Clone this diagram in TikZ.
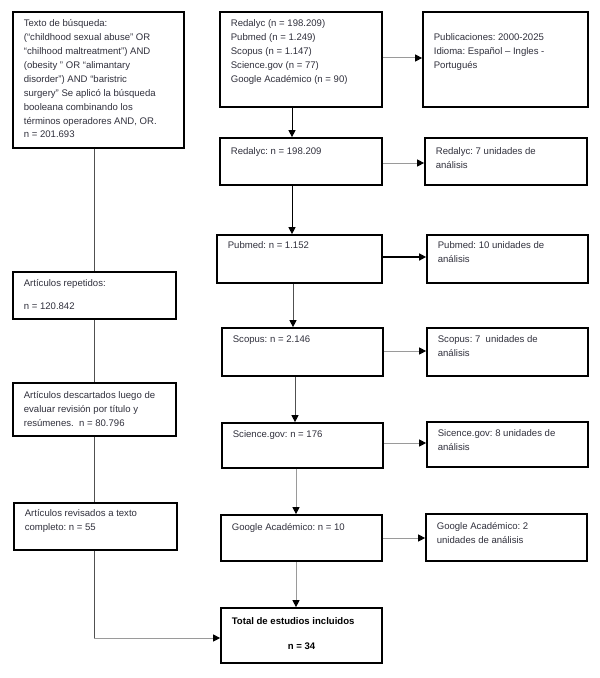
\documentclass[tikz,border=0pt]{standalone}
\usepackage{fontspec}
\setmainfont{Liberation Sans}
\usetikzlibrary{arrows.meta}
\definecolor{txtc}{HTML}{30303C}
\definecolor{lgray}{HTML}{9A9A9A}
\definecolor{dgray}{HTML}{505050}
\tikzset{
  box/.style={draw=black, line width=1.7bp, inner sep=0, fill=white},
  txt/.style={anchor=north west, align=left, inner sep=0, text=txtc,
    font=\frenchspacing\fontsize{9.6}{14}\selectfont},
  tip/.style={-{Triangle[length=7bp,width=7bp,color=black]}},
  conng/.style={draw=lgray, line width=1bp},
  connd/.style={draw=dgray, line width=1bp},
  connb/.style={draw=black, line width=1bp},
}
\newcommand\mybox[7]{%
  \pgfmathsetmacro\bw{#4-#2}\pgfmathsetmacro\bh{#5-#3}%
  \node[box, minimum width=\bw bp, minimum height=\bh bp] (#1) at ({(#2+#4)/2},{(#3+#5)/2}) {};%
  \node[txt] (#1t) at ([xshift=11.5bp,yshift=-#6bp]#1.north west) {#7};%
}
\begin{document}
\begin{tikzpicture}[x=1bp,y=-1bp]
\useasboundingbox (0,0) rectangle (600,678);
% left column
\mybox{L1}{13}{12}{184}{148}{8}{Texto de búsqueda:\\(“childhood sexual abuse” OR\\“chilhood maltreatment”) AND\\(obesity ” OR “alimantary\\disorder”) AND “baristric\\surgery” Se aplicó la búsqueda\\booleana combinando los\\términos operadores AND, OR.\\n = 201.693}
\mybox{L2}{13}{272}{176}{319}{8}{Artículos repetidos:\\[9.5bp]n = 120.842}
\mybox{L3}{13}{383}{176}{436}{9.5}{Artículos descartados luego de\\evaluar revisión por título y\\resúmenes.\ \ n = 80.796}
\mybox{L4}{14}{503}{177}{550}{7.5}{Artículos revisados a texto\\completo: n = 55}
% right column
\mybox{R1}{220}{12}{382}{107}{8}{Redalyc (n = 198.209)\\Pubmed (n = 1.249)\\Scopus (n = 1.147)\\Science.gov (n = 77)\\Google Académico (n = 90)}
\mybox{P1}{423}{12}{588}{107}{22}{Publicaciones: 2000-2025\\Idioma: Español – Ingles -\\Portugués}
\mybox{R2}{220}{138}{382}{185}{10}{Redalyc: n = 198.209}
\mybox{P2}{425}{138}{587}{185}{10}{Redalyc: 7 unidades de\\análisis}
\mybox{R3}{217}{235}{382}{283}{7}{Pubmed: n = 1.152}
\mybox{P3}{427}{235}{588}{283}{7}{Pubmed: 10 unidades de\\análisis}
\mybox{R4}{222}{328}{383}{376}{8}{Scopus: n = 2.146}
\mybox{P4}{427}{328}{588}{376}{8}{Scopus: 7\ \ unidades de\\análisis}
\mybox{R5}{222}{423}{383}{468}{8}{Science.gov: n = 176}
\mybox{P5}{427}{422}{588}{467}{8.5}{Sicence.gov: 8 unidades de\\análisis}
\mybox{R6}{221}{515}{382}{561}{9}{Google Académico: n = 10}
\mybox{P6}{426}{514}{587}{561}{9}{Google Académico: 2\\unidades de análisis}
\node[box, minimum width=161bp, minimum height=55bp] (Tot) at (301.5,635.5) {};
\node[txt, text=black, font=\bfseries\frenchspacing\fontsize{9.6}{14}\selectfont] (Tott) at ([xshift=11.5bp,yshift=-10.5bp]Tot.north west) {Total de estudios incluidos};
\node[anchor=north, inner sep=0, text=black, font=\bfseries\fontsize{9.6}{14}\selectfont] (Totn) at ([yshift=-35.5bp]Tot.north) {n = 34};
% connector guides
\coordinate (trunk) at (94,0);
\coordinate (corner) at (94,638);
\coordinate (a1) at (292,0);
\coordinate (a2) at (292,0);
\coordinate (a3) at (293,0);
\coordinate (a4) at (295,0);
\coordinate (a5) at (296,0);
\coordinate (a6) at (296,0);
\coordinate (h1) at ([yshift=1.5bp]R1.east);
\coordinate (h2) at ([yshift=-1.5bp]R2.east);
\coordinate (h3) at ([yshift=2bp]R3.east);
\coordinate (h4) at ([yshift=1bp]R4.east);
\coordinate (h5) at ([yshift=2.5bp]R5.east);
\coordinate (h6) at (R6.east);
% left trunk
\draw[connd] (L1.south -| trunk) -- (L2.north -| trunk);
\draw[connd] (L2.south -| trunk) -- (L3.north -| trunk);
\draw[connd] (L3.south -| trunk) -- (L4.north -| trunk);
\draw[connd] (L4.south -| trunk) -- (corner);
\draw[conng, tip] (corner) -- (Tot.west |- corner);
% right vertical
\draw[connb, tip] (R1.south -| a1) -- (R2.north -| a1);
\draw[connb, tip] (R2.south -| a2) -- (R3.north -| a2);
\draw[connd, tip] (R3.south -| a3) -- (R4.north -| a3);
\draw[connd, tip] (R4.south -| a4) -- (R5.north -| a4);
\draw[conng, tip] (R5.south -| a5) -- (R6.north -| a5);
\draw[conng, tip] (R6.south -| a6) -- (Tot.north -| a6);
% horizontal
\draw[conng, tip] (h1) -- (P1.west |- h1);
\draw[conng, tip] (h2) -- (P2.west |- h2);
\draw[connb, line width=1.5bp, tip] (h3) -- (P3.west |- h3);
\draw[conng, tip] (h4) -- (P4.west |- h4);
\draw[conng, tip] (h5) -- (P5.west |- h5);
\draw[conng, tip] (h6) -- (P6.west |- h6);
\end{tikzpicture}
\end{document}
